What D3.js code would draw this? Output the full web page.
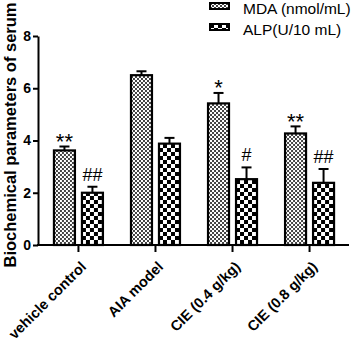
<!DOCTYPE html>
<html>
<head>
    <script src="https://d3js.org/d3.v7.min.js"></script>
    <style>
        body { margin: 0; background: #fff; }
        text { font-family: "Liberation Sans", Arial, sans-serif; }
        .axis path, .axis line { stroke: #000; stroke-width: 2px; }
        .axis text { font-size: 14px; font-weight: bold; fill: #000; }
        .xaxis text { font-size: 14.5px; }
    </style>
</head>
<body>
    <script>
        var groups = ["vehicle control", "AIA model", "CIE (0.4 g/kg)", "CIE (0.8 g/kg)"];
        var series = ["MDA (nmol/mL)", "ALP(U/10 mL)"];
        var mda = [3.62, 6.5, 5.42, 4.27];
        var mdaErr = [0.15, 0.15, 0.4, 0.27];
        var alp = [2.0, 3.88, 2.52, 2.38];
        var alpErr = [0.23, 0.22, 0.45, 0.53];
        var mdaMarks = ["**", "", "*", "**"];
        var alpMarks = ["##", "", "#", "##"];
        var yTicks = [0, 2, 4, 6, 8];

        var svg = d3.select("body").append("svg")
            .attr("width", 358)
            .attr("height", 343);

        var defs = svg.append("defs");
        // fine checker for MDA
        var p1 = defs.append("pattern").attr("id", "fine")
            .attr("width", 4).attr("height", 4).attr("patternUnits", "userSpaceOnUse");
        p1.append("rect").attr("width", 4).attr("height", 4).attr("fill", "#fff");
        p1.append("rect").attr("width", 2).attr("height", 2).attr("fill", "#444");
        p1.append("rect").attr("x", 2).attr("y", 2).attr("width", 2).attr("height", 2).attr("fill", "#444");
        // coarse checker for ALP
        var p2 = defs.append("pattern").attr("id", "coarse")
            .attr("width", 8).attr("height", 8).attr("patternUnits", "userSpaceOnUse");
        p2.append("rect").attr("width", 8).attr("height", 8).attr("fill", "#fff");
        p2.append("rect").attr("width", 4).attr("height", 4).attr("fill", "#000");
        p2.append("rect").attr("x", 4).attr("y", 4).attr("width", 4).attr("height", 4).attr("fill", "#000");

        var fills = ["url(#fine)", "url(#coarse)"];

        var x0 = d3.scaleBand().domain(groups).range([38, 350]).paddingInner(0.364).paddingOuter(0.207);
        var x1 = d3.scaleBand().domain(series).range([0, x0.bandwidth()]).paddingInner(0.25);
        var y = d3.scaleLinear().domain([0, 8]).range([245, 36]);

        var data = groups.map(function (g, i) {
            return [
                { g: g, s: series[0], v: mda[i], e: mdaErr[i], m: mdaMarks[i], k: 0 },
                { g: g, s: series[1], v: alp[i], e: alpErr[i], m: alpMarks[i], k: 1 }
            ];
        });

        var gg = svg.append("g").selectAll("g")
            .data(data)
            .enter().append("g")
            .attr("transform", function (d) { return "translate(" + x0(d[0].g) + ",0)"; });

        var bar = gg.selectAll("g").data(function (d) { return d; }).enter().append("g");

        // error bars (upper only)
        bar.append("line")
            .attr("x1", function (d) { return x1(d.s) + x1.bandwidth() / 2; })
            .attr("x2", function (d) { return x1(d.s) + x1.bandwidth() / 2; })
            .attr("y1", function (d) { return y(d.v); })
            .attr("y2", function (d) { return y(d.v + d.e); })
            .attr("stroke", "#000").attr("stroke-width", 2);
        bar.append("line")
            .attr("x1", function (d) { return x1(d.s) + x1.bandwidth() / 2 - 5; })
            .attr("x2", function (d) { return x1(d.s) + x1.bandwidth() / 2 + 5; })
            .attr("y1", function (d) { return y(d.v + d.e); })
            .attr("y2", function (d) { return y(d.v + d.e); })
            .attr("stroke", "#000").attr("stroke-width", 2);

        bar.append("rect")
            .attr("x", function (d) { return x1(d.s); })
            .attr("y", function (d) { return y(d.v); })
            .attr("width", x1.bandwidth())
            .attr("height", function (d) { return y(0) - y(d.v); })
            .attr("fill", function (d) { return fills[d.k]; })
            .attr("stroke", "#000")
            .attr("stroke-width", 2.2);

        bar.append("text")
            .attr("x", function (d) { return x1(d.s) + x1.bandwidth() / 2; })
            .attr("y", function (d) { return y(d.v + d.e) - (d.k ? 6 : 0); })
            .attr("dy", function (d) { return d.k ? 0 : "0.1em"; })
            .attr("text-anchor", "middle")
            .style("font-size", function (d) { return d.k ? "18px" : "22px"; })
            .text(function (d) { return d.m; });

        // axes
        svg.append("g")
            .attr("class", "axis")
            .attr("transform", "translate(38,0)")
            .call(d3.axisLeft(y).tickValues(yTicks).tickSize(5).tickSizeOuter(0).tickPadding(2));

        var xa = svg.append("g")
            .attr("class", "axis xaxis")
            .attr("transform", "translate(0,245)")
            .call(d3.axisBottom(x0).tickSize(7).tickSizeOuter(0));
        xa.select(".domain").attr("d", "M37,0H349");
        xa.selectAll("text")
            .attr("x", 0).attr("y", 0)
            .attr("text-anchor", "end")
            .attr("dy", "0.35em")
            .attr("transform", "translate(5,19) rotate(-45)");

        svg.append("text")
            .attr("transform", "translate(16,135) rotate(-90)")
            .attr("text-anchor", "middle")
            .style("font-size", "16.5px")
            .style("font-weight", "bold")
            .text("Biochemical parameters of serum");

        // legend
        var leg = svg.append("g").selectAll("g")
            .data(series)
            .enter().append("g")
            .attr("transform", function (d, i) { return "translate(210," + (3 + i * 21) + ")"; });
        leg.append("rect")
            .attr("width", 19).attr("height", 6)
            .attr("fill", function (d, i) { return fills[i]; })
            .attr("stroke", "#000").attr("stroke-width", 2);
        leg.append("text")
            .attr("x", 33).attr("y", 11)
            .style("font-size", "15.5px")
            .text(function (d) { return d; });
    </script>
</body>
</html>
